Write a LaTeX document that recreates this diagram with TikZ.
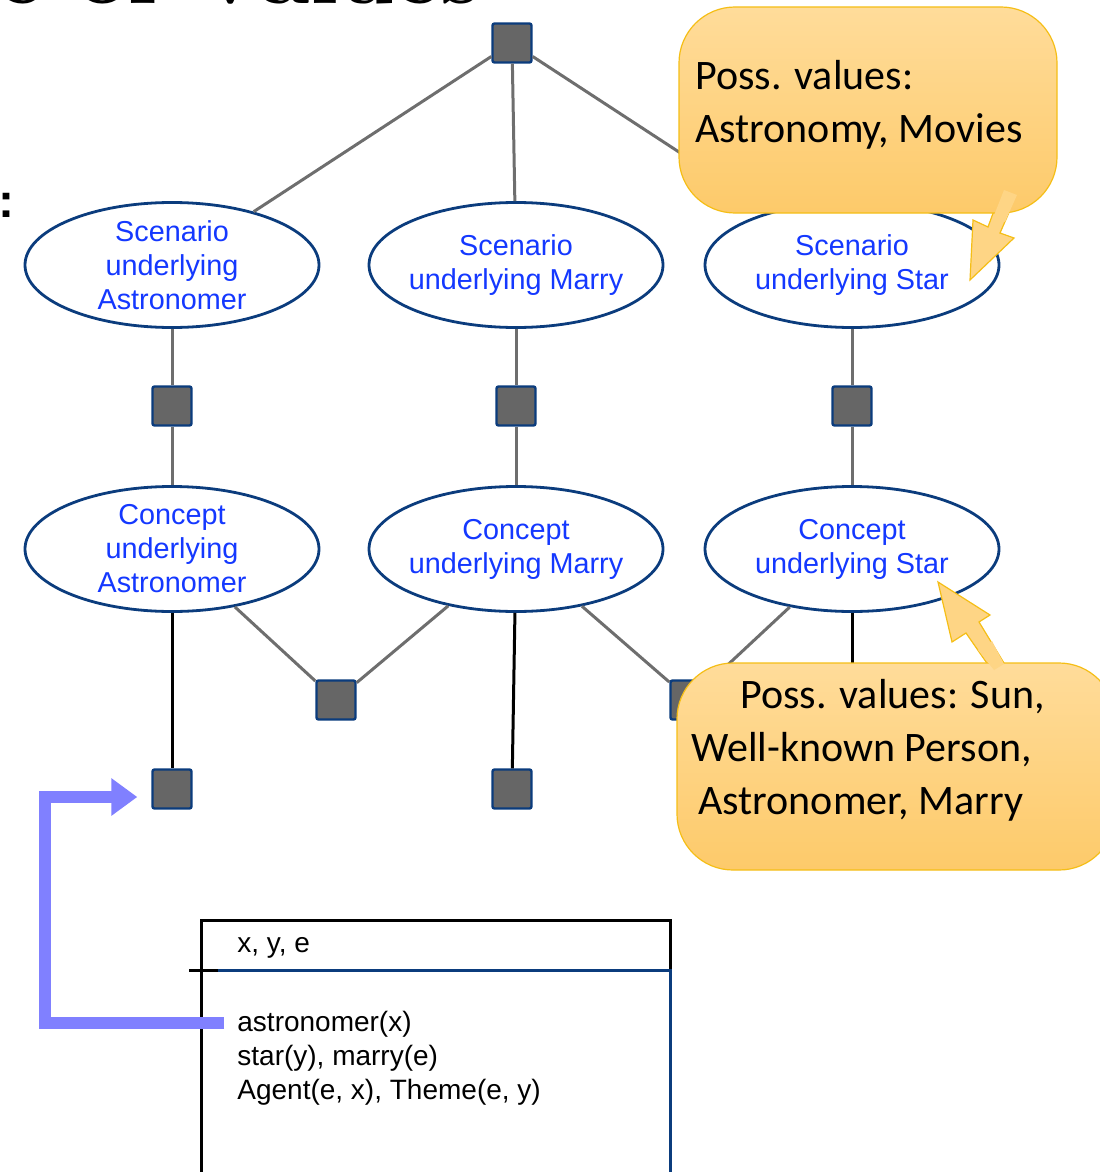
\documentclass[tikz,border=0pt]{standalone}
\usepackage{fontspec}
\newfontfamily\arialfont{Liberation Sans}
\newfontfamily\calibrifont{Carlito}
\usetikzlibrary{arrows.meta,positioning,shapes.geometric}
\definecolor{navy}{HTML}{0B3C7D}
\definecolor{linkblue}{HTML}{1438FF}
\definecolor{factorgray}{HTML}{666666}
\definecolor{edgegray}{HTML}{6E6E6E}
\definecolor{notetop}{HTML}{FFDC9A}
\definecolor{notebottom}{HTML}{FDCA6A}
\definecolor{notemid}{HTML}{FED585}
\definecolor{noteline}{HTML}{F5BE16}
\definecolor{hookblue}{HTML}{8080FF}

\begin{document}
\begin{tikzpicture}[x=0.5pt,y=-0.5pt,
  var/.style={ellipse,draw=navy,line width=1.4pt,fill=white,minimum width=147pt,
              minimum height=62.5pt,inner xsep=-3pt,inner ysep=-3pt,align=center,
              text=linkblue,font=\arialfont\fontsize{14.4}{17}\selectfont},
  factor/.style={rectangle,draw=navy,line width=1.2pt,fill=factorgray,
                 rounded corners=1pt,minimum size=19.5pt,inner sep=0pt},
  soft/.style={draw=edgegray,line width=1.5pt},
  hard/.style={draw=black,line width=1.5pt},
  note/.style={rectangle,rounded corners=28pt,draw=noteline,line width=0.6pt,
               top color=notetop,bottom color=notebottom,inner sep=0pt},
  notetext/.style={font=\calibrifont\fontsize{21}{26.5}\selectfont,align=left,
                   inner sep=0pt,anchor=west},
  drs/.style={font=\arialfont\fontsize{14}{17}\selectfont,align=left,inner sep=0pt},
  hook/.style={draw=hookblue,line width=6pt,line join=miter,
               -{Triangle[length=13pt,width=18pt]}}]
\useasboundingbox (0,0) rectangle (1099,1172);

\node[anchor=base west,inner sep=0pt,font=\fontsize{45}{45}\selectfont\bfseries]
  (title) at (-3,4) {e of Values};
\node[anchor=base west,inner sep=0pt,font=\arialfont\fontsize{24}{24}\selectfont\bfseries]
  (colon) at (-2,217) {:};

\node[var] (s1) at (172,265) {Scenario\\underlying\\Astronomer};
\node[var] (s2) at (516,265) {Scenario\\underlying Marry};
\node[var] (s3) at (852,265) {Scenario\\underlying Star};
\node[var] (c1) at (172,549) {Concept\\underlying\\Astronomer};
\node[var] (c2) at (516,549) {Concept\\underlying Marry};
\node[var] (c3) at (852,549) {Concept\\underlying Star};

\node[factor] (ftop) at (512,43) {};
\node[factor] (f1) at (172,406) {};
\node[factor] (f2) at (516,406) {};
\node[factor] (f3) at (852,406) {};
\node[factor] (g1) at (336,700) {};
\node[factor] (g2) at (690,700) {};
\node[factor] (b1) at (172,789) {};
\node[factor] (b2) at (512,789) {};
\coordinate (c3end) at (852,700);

\draw[soft] (ftop) -- (s1);
\draw[soft] (ftop) -- (s2);
\draw[soft] (ftop) -- (s3);
\draw[soft] (s1) -- (f1) -- (c1);
\draw[soft] (s2) -- (f2) -- (c2);
\draw[soft] (s3) -- (f3) -- (c3);
\draw[soft] (c1) -- (g1) -- (c2);
\draw[soft] (c2) -- (g2) -- (c3);
\draw[hard] (c1) -- (b1);
\draw[hard] (c2) -- (b2);
\draw[hard] (c3) -- (c3end);

% DRS box
\draw[line width=1.5pt] (201,1190) -- (201,920) -- (670,920) -- (670,970);
\draw[navy,line width=1.5pt] (216,970) -- (670,970) -- (670,1190);
\draw[line width=1.5pt] (189,970) -- (218,970);
\node[drs,anchor=west] (drsvars) at (237,948) {x, y, e};
\node[drs,anchor=north west] (drsconds) at (237,1011)
  {astronomer(x)\\star(y), marry(e)\\Agent(e, x), Theme(e, y)};

\coordinate (hookstart) at (224,1023);
\coordinate (hookbend) at (45,1023);
\draw[hook] (hookstart) -- (hookbend) |- ([xshift=-7pt,yshift=-4pt]b1.west);

% callouts
\filldraw[fill=notemid,draw=noteline,line width=0.6pt]
  (1003,186) -- (1018,192) -- (1000,233) -- (1014,238) -- (970,280)
  -- (973,220) -- (988,227) -- cycle;
\node[note,minimum width=189pt,minimum height=103pt] (note1) at (868,110) {};
\fill[notemid] (1004,190) -- (1017,195) -- (1005,222) -- (993,218) -- cycle;
\node[notetext] (note1txt) at (695,105) {Poss. values:\\Astronomy, Movies};

\filldraw[fill=notemid,draw=noteline,line width=0.6pt]
  (993,672) -- (966,633) -- (952,642) -- (938,582) -- (990,615)
  -- (979,622) -- (1007,668) -- cycle;
\node[note,minimum width=219pt,minimum height=103.5pt] (note2) at (896,766.5) {};
\fill[notemid] (978,650) -- (992,641) -- (1004,664) -- (994,670) -- cycle;
\node[notetext] (note2txt) at (691,750)
  {\hspace*{24.5pt}Poss. values: Sun,\\Well-known Person,\\\hspace*{3.5pt}Astronomer, Marry};
\end{tikzpicture}
\end{document}
